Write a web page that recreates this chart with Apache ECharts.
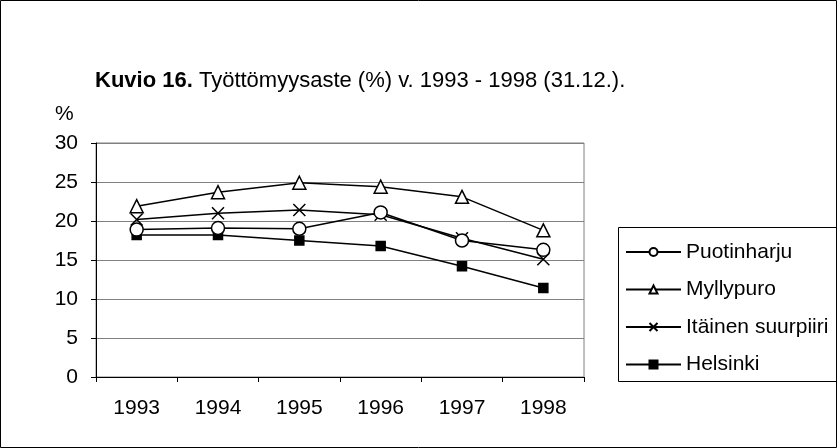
<!DOCTYPE html>
<html style="height: 100%">
<head>
    <meta charset="utf-8">
    <style>
        body { margin: 0; background: #fff; }
        #main { width: 837px; height: 448px; }
    </style>
    <script type="text/javascript" src="https://cdn.jsdelivr.net/npm/echarts@6/dist/echarts.min.js"></script>
</head>
<body>
<div id="main"></div>
<script type="text/javascript">
    var years = ['1993', '1994', '1995', '1996', '1997', '1998'];
    var puotinharju = [18.9, 19.1, 19.0, 21.1, 17.5, 16.3];
    var myllypuro = [21.9, 23.7, 24.9, 24.4, 23.1, 18.8];
    var itainen = [20.2, 21.0, 21.4, 20.8, 17.8, 15.1];
    var helsinki = [18.2, 18.2, 17.5, 16.8, 14.2, 11.4];

    var font = 'Liberation Sans, Arial, sans-serif';
    var cross = 'path://M0,0L10,10M10,0L0,10';

    var myChart = echarts.init(document.getElementById('main'));

    function line(name, data, symbol, size, fill) {
        return {
            name: name,
            type: 'line',
            data: data,
            symbol: symbol,
            symbolSize: size,
            lineStyle: {color: '#000', width: 1.5},
            itemStyle: {color: fill, borderColor: '#000', borderWidth: 1.5},
            emphasis: {disabled: true},
            animation: false
        };
    }

    var option = {
        animation: false,
        title: {
            text: '{b|Kuvio 16.} Työttömyysaste (%) v. 1993 - 1998 (31.12.).',
            left: 95,
            top: 70,
            padding: 0,
            textStyle: {
                fontFamily: font, fontSize: 22, fontWeight: 'normal', color: '#000',
                rich: {b: {fontFamily: font, fontSize: 22, fontWeight: 'bold', color: '#000'}}
            }
        },
        grid: {
            left: 96, right: 253, top: 143, bottom: 71,
            show: true, borderColor: '#808080', borderWidth: 1
        },
        legend: {
            orient: 'vertical',
            left: 625,
            top: 241,
            padding: 0,
            itemWidth: 55,
            itemHeight: 10,
            itemGap: 15.5,
            textStyle: {fontFamily: font, fontSize: 21, color: '#000', lineHeight: 22},
            data: ['Puotinharju', 'Myllypuro', 'Itäinen suurpiiri', 'Helsinki']
        },
        xAxis: {
            type: 'category',
            data: years,
            boundaryGap: true,
            axisLine: {lineStyle: {color: '#000', width: 1}},
            axisTick: {show: true, length: 5, lineStyle: {color: '#000'}},
            axisLabel: {fontFamily: font, fontSize: 21, color: '#000', margin: 21},
            splitLine: {show: false}
        },
        yAxis: {
            type: 'value',
            min: 0,
            max: 30,
            interval: 5,
            axisLine: {show: true, lineStyle: {color: '#000', width: 1}},
            axisTick: {show: true, length: 5, lineStyle: {color: '#000'}},
            axisLabel: {fontFamily: font, fontSize: 21, color: '#000', margin: 18},
            splitLine: {lineStyle: {color: '#808080', width: 1}}
        },
        graphic: [
            {
                type: 'rect',
                shape: {x: 0.5, y: 0.5, width: 836, height: 447},
                style: {fill: 'none', stroke: '#000', lineWidth: 1},
                silent: true
            },
            {
                type: 'rect',
                shape: {x: 618.5, y: 227.5, width: 240, height: 154},
                style: {fill: 'none', stroke: '#000', lineWidth: 1},
                silent: true
            },
            {
                type: 'text',
                left: 55,
                top: 104,
                style: {text: '%', fontFamily: font, fontSize: 21, fill: '#000'}
            }
        ],
        series: [
            line('Helsinki', helsinki, 'rect', 9, '#000'),
            line('Itäinen suurpiiri', itainen, cross, 12, '#000'),
            line('Myllypuro', myllypuro, 'triangle', 13, '#fff'),
            line('Puotinharju', puotinharju, 'circle', 13, '#fff')
        ]
    };
    myChart.setOption(option);
</script>
</body>
</html>
